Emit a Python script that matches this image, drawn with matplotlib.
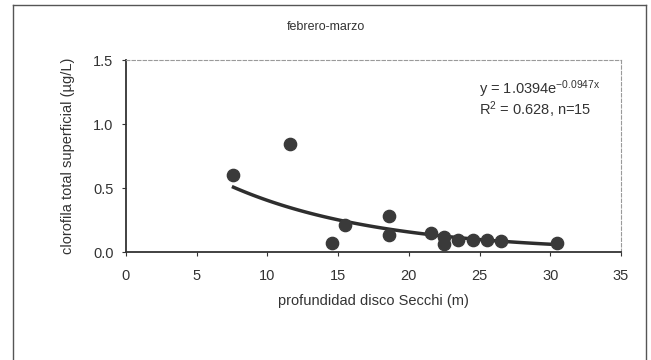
import numpy as np
import matplotlib
matplotlib.use("Agg")
import matplotlib.pyplot as plt
from matplotlib.lines import Line2D

plt.rcParams['font.family'] = ['Liberation Sans', 'DejaVu Sans']
plt.rcParams['mathtext.fontset'] = 'custom'
plt.rcParams['mathtext.rm'] = 'Liberation Sans'
plt.rcParams['mathtext.it'] = 'Liberation Sans'

# Secchi depth (m) vs surface chlorophyll (ug/L), febrero-marzo
secchi = [7.6, 11.6, 14.6, 15.5, 18.6, 18.6, 21.6, 22.5, 22.5, 23.5, 24.5, 25.5, 26.5, 30.5]
clorofila = [0.60, 0.84, 0.07, 0.21, 0.28, 0.13, 0.15, 0.115, 0.06, 0.09, 0.09, 0.09, 0.085, 0.07]

# exponential trendline as reported on the chart
fit_a = 1.0394
fit_b = -0.0947

fig = plt.figure(figsize=(6.51, 3.6), dpi=100)
ax = fig.add_axes([126/651, 1 - 252/360, (621 - 126)/651, (252 - 60)/360])

ax.scatter(secchi, clorofila, s=78, color='#3a3a3a', zorder=3)

xf = np.linspace(min(secchi), max(secchi), 100)
ax.plot(xf, fit_a*np.exp(fit_b*xf), color='#2e2e2e', lw=2.5, zorder=2)

ax.set_xlim(0, 35)
ax.set_ylim(0, 1.5)
ax.set_xticks(range(0, 36, 5))
ax.set_yticks([0, 0.5, 1.0, 1.5])
ax.set_yticklabels(['0.0', '0.5', '1.0', '1.5'])
ax.tick_params(direction='out', length=3, labelsize=10.5, colors='#333333', pad=6)
ax.tick_params(axis='x', pad=9)

for s in ['left', 'bottom']:
    ax.spines[s].set_color('#333333')
    ax.spines[s].set_linewidth(1.3)
for s in ['top', 'right']:
    ax.spines[s].set_color('#9a9a9a')
    ax.spines[s].set_linewidth(0.8)
    ax.spines[s].set_linestyle((0, (3, 2)))

ax.set_xlabel('profundidad disco Secchi (m)', fontsize=10.5, color='#333333', labelpad=8)
ax.set_ylabel('clorofila total superficial (µg/L)', fontsize=10.5, color='#333333', labelpad=13)

ax.text(479/651, 1 - 89/360, r'y = 1.0394e$^{-0.0947x}$', transform=fig.transFigure,
        fontsize=10.5, color='#333333', va='center', ha='left')
ax.text(479/651, 1 - 110/360, r'R$^{2}$ = 0.628, n=15', transform=fig.transFigure,
        fontsize=10.5, color='#333333', va='center', ha='left')

fig.text(0.5, 1 - 27/360, 'febrero-marzo', fontsize=9, color='#333333', ha='center', va='center')

# outer chart frame
for xs, ys in [([13, 646], [5, 5]), ([13, 13], [5, 360]), ([646, 646], [5, 360])]:
    fig.add_artist(Line2D([x/651 for x in xs], [1 - y/360 for y in ys],
                          color='#555555', lw=1.0, transform=fig.transFigure))

fig.savefig('out.png', dpi=100, facecolor='white')
